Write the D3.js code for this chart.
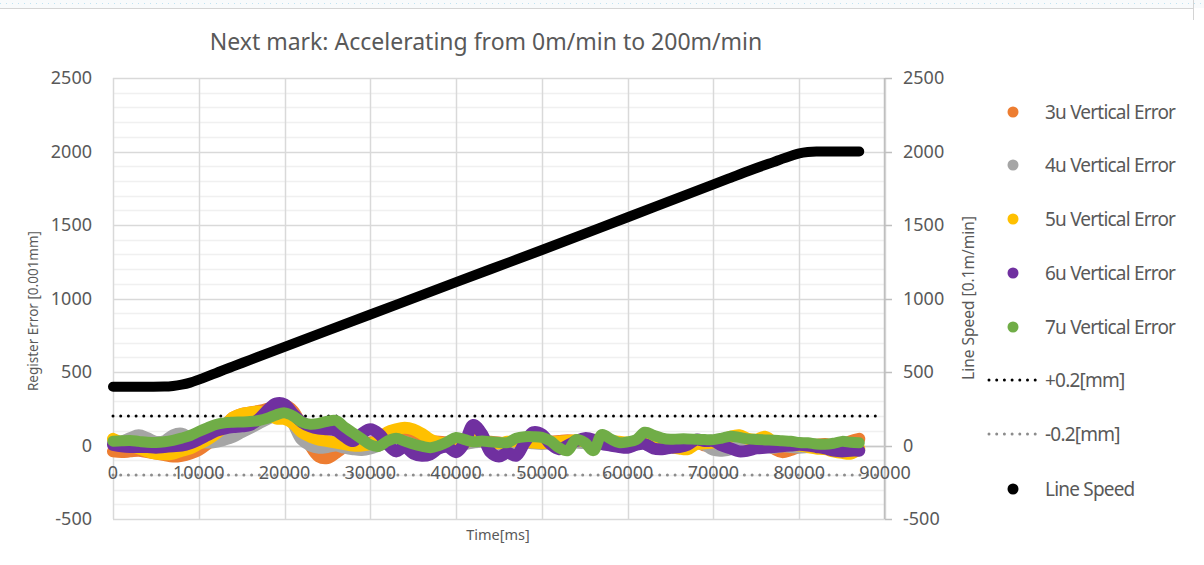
<!DOCTYPE html>
<html>
<head>
    <title>Next mark</title>
    <script src="https://d3js.org/d3.v7.min.js"></script>
    <style>
        body { margin: 0; background: #fff; font-family: "Noto Sans", Arial, sans-serif; }
        svg text { fill: #595959; }
    </style>
</head>
<body>
<div id="chart"></div>
<script>
    // sample times of the register error series [ms]
    const timeMs = [0, 1000, 2000, 3000, 4000, 5000, 6000, 7000, 8000, 9000,
        10000, 11000, 12000, 13000, 14000, 15000, 16000, 17000, 18000, 19000,
        20000, 21000, 22000, 23000, 24000, 25000, 26000, 27000, 28000, 29000,
        30000, 31000, 32000, 33000, 34000, 35000, 36000, 37000, 38000, 39000,
        40000, 41000, 42000, 43000, 44000, 45000, 46000, 47000, 48000, 49000,
        50000, 51000, 52000, 53000, 54000, 55000, 56000, 57000, 58000, 59000,
        60000, 61000, 62000, 63000, 64000, 65000, 66000, 67000, 68000, 69000,
        70000, 71000, 72000, 73000, 74000, 75000, 76000, 77000, 78000, 79000,
        80000, 81000, 82000, 83000, 84000, 85000, 86000, 87000];

    const err3u = [-40, -45, -40, -35, -45, -55, -65, -75, -70, -55,
        -30, 10, 60, 130, 190, 215, 225, 235, 250, 270,
        275, 235, 130, 0, -75, -85, -50, -10, 10, 15,
        20, 30, 45, 60, 70, 60, 40, 30, 25, 20,
        15, 20, 25, 30, 25, 20, 15, 20, 30, 25,
        20, 25, 30, 35, 30, 20, 25, 40, 30, 20,
        15, 20, 30, 35, 30, 25, -15, 5, 25, 0,
        20, 30, 35, 30, 25, 20, 10, -20, -45, -30,
        -10, 0, 5, 10, 0, 5, 30, 45];

    const err4u = [20, 25, 50, 70, 50, 25, 30, 70, 80, 50,
        30, 20, 25, 40, 60, 90, 120, 150, 180, 215,
        230, 150, 40, 0, -15, -10, 0, -15, -25, -30,
        -20, 0, 20, 30, 25, 5, -15, -5, 10, 20,
        15, 10, 20, 25, 15, 10, 5, 15, 20, 15,
        10, 15, 20, 25, 20, 15, 20, 25, 20, 15,
        15, 20, 25, 20, 15, 20, 25, 20, 15, 5,
        -30, -35, -25, 15, 5, 0, -10, -15, -5, -10,
        -15, -10, -5, -10, -15, -35, -35, -30];

    const err5u = [45, 20, 0, -20, -40, -55, -60, -55, -35, -20,
        10, 40, 80, 130, 190, 215, 225, 230, 210, 185,
        180, 150, 90, 60, 40, 30, 20, 10, 0, 0,
        10, 40, 90, 110, 120, 110, 80, 40, 20, 15,
        10, 20, 40, 30, 20, 15, 25, 30, 25, 20,
        15, 20, 25, 30, 35, 30, 25, 20, 30, 25,
        20, 25, 30, 25, 20, -10, -20, -25, 10, 15,
        20, 35, 60, 70, 45, 40, 60, 25, 10, 5,
        0, -10, -20, -25, -40, -50, -55, -20];

    const err6u = [5, -5, -10, -10, -10, -15, -10, -5, 0, 15,
        40, 70, 100, 115, 125, 130, 140, 180, 240, 285,
        280, 215, 160, 130, 115, 110, 100, 60, 30, 80,
        110, 80, 10, -40, -10, -55, -70, -60, -20, -10,
        -45, 20, 140, 80, -45, -75, -50, -70, 20, 90,
        75, 10, -25, 0, 30, 50, 40, 10, 0, -10,
        -15, 5, 10, -20, -25, -15, -10, 5, 40, 30,
        30, 0, -20, -40, -35, -20, -15, -10, -5, 0,
        5, 0, -10, -20, -35, -40, -35, -35];

    const err7u = [29, 32, 34, 28, 22, 20, 25, 35, 50, 68,
        95, 120, 143, 154, 158, 160, 163, 170, 185, 208,
        222, 200, 160, 145, 150, 165, 170, 125, 85, 45,
        5, -5, 30, 50, 30, 10, -5, -15, 0, 25,
        55, 40, 25, 30, 25, 20, 20, 50, 60, 60,
        55, 30, -15, -35, 40, 20, -35, 75, 45, 20,
        25, 40, 90, 70, 50, 42, 45, 45, 42, 40,
        40, 50, 63, 55, 45, 41, 38, 36, 32, 29,
        20, 18, 10, 8, 15, 28, 22, 18];

    // line speed [0.1m/min], secondary axis
    const speedTimeMs = [0, 2000, 4000, 6000, 7000, 8000, 9000, 10000, 11000, 12000,
        13000, 14000, 16000, 20000, 30000, 40000, 50000, 60000, 70000, 72000,
        74000, 76000, 77000, 78000, 79000, 80000, 81000, 82000, 84000, 86000, 87000];
    const lineSpeed = [400, 400, 400, 401, 405, 414, 428, 448, 470, 493,
        516, 538, 583, 671, 891, 1111, 1330, 1553, 1776, 1821,
        1866, 1908, 1928, 1950, 1970, 1988, 1997, 2000, 2000, 2000, 2000];

    const limitPlus = 200;
    const limitMinus = -200;

    const seriesNames = ['3u Vertical Error', '4u Vertical Error', '5u Vertical Error', '6u Vertical Error', '7u Vertical Error'];
    const seriesColors = ['#ed7d31', '#a5a5a5', '#ffc000', '#7030a0', '#70ad47'];
    const seriesValues = [err3u, err4u, err5u, err6u, err7u];

    const xTicks = [0, 10000, 20000, 30000, 40000, 50000, 60000, 70000, 80000, 90000];
    const yTicks = [-500, 0, 500, 1000, 1500, 2000, 2500];

    const width = 1204, height = 565;
    const plotL = 113, plotR = 885, plotT = 78, plotB = 519;

    const svg = d3.select('#chart').append('svg')
        .attr('width', width)
        .attr('height', height);

    svg.append('rect').attr('width', width).attr('height', height).attr('fill', '#fff');

    // sheet strip at the very top
    svg.append('rect').attr('width', width).attr('height', 8).attr('fill', '#f8fafb');
    svg.append('line').attr('x1', 0).attr('x2', width).attr('y1', 3.5).attr('y2', 3.5)
        .attr('stroke', '#bfe3f2').attr('stroke-dasharray', '1,5');
    svg.append('line').attr('x1', 0).attr('x2', 1193).attr('y1', 8.5).attr('y2', 8.5)
        .attr('stroke', '#d4d4d4');
    svg.append('line').attr('x1', 1193.5).attr('x2', 1193.5).attr('y1', 0).attr('y2', 20)
        .attr('stroke', '#d4d4d4');

    const x = d3.scaleLinear().domain([0, 90000]).range([plotL, plotR]);
    const y = d3.scaleLinear().domain([-500, 2500]).range([plotB, plotT]);
    const y2 = d3.scaleLinear().domain([-500, 2500]).range([plotB, plotT]);

    // minor gridlines
    const minor = d3.range(-500, 2501, 100).filter(v => v % 500 !== 0);
    svg.append('g').selectAll('line').data(minor).join('line')
        .attr('x1', plotL).attr('x2', plotR)
        .attr('y1', d => Math.round(y(d)) + 0.5).attr('y2', d => Math.round(y(d)) + 0.5)
        .attr('stroke', '#f0f0f0').attr('stroke-width', 1.5);

    // major gridlines
    svg.append('g').selectAll('line').data(yTicks).join('line')
        .attr('x1', plotL).attr('x2', plotR)
        .attr('y1', d => Math.round(y(d)) + 0.5).attr('y2', d => Math.round(y(d)) + 0.5)
        .attr('stroke', '#d9d9d9').attr('stroke-width', 1.5);

    svg.append('g').selectAll('line').data(xTicks).join('line')
        .attr('x1', d => Math.round(x(d)) + 0.5).attr('x2', d => Math.round(x(d)) + 0.5)
        .attr('y1', plotT).attr('y2', plotB)
        .attr('stroke', '#d9d9d9').attr('stroke-width', 1.5);

    // right axis line and ticks
    svg.append('line').attr('x1', plotR - 0.5).attr('x2', plotR - 0.5)
        .attr('y1', plotT).attr('y2', plotB).attr('stroke', '#bfbfbf').attr('stroke-width', 1.5);
    svg.append('g').selectAll('line').data(yTicks).join('line')
        .attr('x1', plotR).attr('x2', plotR + 7)
        .attr('y1', d => Math.round(y2(d)) + 0.5).attr('y2', d => Math.round(y2(d)) + 0.5)
        .attr('stroke', '#bfbfbf').attr('stroke-width', 1.5);

    // zero axis line
    svg.append('line').attr('x1', plotL).attr('x2', plotR)
        .attr('y1', Math.round(y(0)) + 0.5).attr('y2', Math.round(y(0)) + 0.5)
        .attr('stroke', '#c8c8c8').attr('stroke-width', 1.5);

    // tick labels
    svg.append('g').selectAll('text').data(yTicks).join('text')
        .attr('x', 92).attr('y', d => y(d)).attr('dy', '0.35em')
        .attr('text-anchor', 'end').style('font-size', '18px')
        .text(d => d);
    svg.append('g').selectAll('text').data(yTicks).join('text')
        .attr('x', 903).attr('y', d => y2(d)).attr('dy', '0.35em')
        .attr('text-anchor', 'start').style('font-size', '18px')
        .text(d => d);

    // limit lines
    svg.append('line').attr('x1', plotL).attr('x2', 882)
        .attr('y1', y(limitPlus)).attr('y2', y(limitPlus))
        .attr('stroke', '#000').attr('stroke-width', 3)
        .attr('stroke-linecap', 'round').attr('stroke-dasharray', '0,7.7');
    svg.append('line').attr('x1', plotL).attr('x2', 882)
        .attr('y1', y(limitMinus)).attr('y2', y(limitMinus))
        .attr('stroke', '#8c8c8c').attr('stroke-width', 3)
        .attr('stroke-linecap', 'round').attr('stroke-dasharray', '0,7.7');

    svg.append('g').selectAll('text').data(xTicks).join('text')
        .attr('x', d => x(d)).attr('y', y(0) + 33)
        .attr('text-anchor', 'middle').style('font-size', '18px')
        .text(d => d);

    // error series
    const errLine = d3.line()
        .x((d, i) => x(timeMs[i]))
        .y(d => y(d))
        .curve(d3.curveCatmullRom);

    svg.append('g').selectAll('path').data(seriesValues).join('path')
        .attr('d', d => errLine(d))
        .attr('fill', 'none')
        .attr('stroke', (d, i) => seriesColors[i])
        .attr('stroke-width', (d, i) => i === 4 ? 11 : 12)
        .attr('stroke-linecap', 'round')
        .attr('stroke-linejoin', 'round');

    // line speed
    const speedLine = d3.line()
        .x((d, i) => x(speedTimeMs[i]))
        .y(d => y2(d))
        .curve(d3.curveMonotoneX);
    svg.append('path')
        .attr('d', speedLine(lineSpeed))
        .attr('fill', 'none')
        .attr('stroke', '#000')
        .attr('stroke-width', 10)
        .attr('stroke-linecap', 'round')
        .attr('stroke-linejoin', 'round');

    // titles
    svg.append('text').attr('x', 486).attr('y', 50).attr('text-anchor', 'middle')
        .style('font-size', '23px')
        .text('Next mark: Accelerating from 0m/min to 200m/min');
    svg.append('text').attr('transform', 'translate(38,311) rotate(-90)')
        .attr('text-anchor', 'middle').style('font-size', '13.5px')
        .text('Register Error [0.001mm]');
    svg.append('text').attr('transform', 'translate(974,298) rotate(-90)')
        .attr('text-anchor', 'middle').style('font-size', '15.5px')
        .text('Line Speed [0.1m/min]');
    svg.append('text').attr('x', 498).attr('y', 540).attr('text-anchor', 'middle')
        .style('font-size', '14.5px')
        .text('Time[ms]');

    // legend
    const legendRows = [112, 165, 219, 273, 327, 380, 434, 489];
    const legendItems = seriesNames.map((n, i) => ({ name: n, color: seriesColors[i], type: 'dot' }))
        .concat([
            { name: '+0.2[mm]', color: '#000', type: 'dash' },
            { name: '-0.2[mm]', color: '#8c8c8c', type: 'dash' },
            { name: 'Line Speed', color: '#000', type: 'dot' }
        ]);

    const legend = svg.append('g').selectAll('g').data(legendItems).join('g')
        .attr('transform', (d, i) => `translate(0,${legendRows[i]})`);
    legend.filter(d => d.type === 'dot').append('circle')
        .attr('cx', 1013).attr('cy', 0).attr('r', 5.5)
        .attr('fill', d => d.color);
    legend.filter(d => d.type === 'dash').append('line')
        .attr('x1', 989).attr('x2', 1036).attr('y1', 0).attr('y2', 0)
        .attr('stroke', d => d.color).attr('stroke-width', 3)
        .attr('stroke-linecap', 'round').attr('stroke-dasharray', '0,7.7');
    legend.append('text')
        .attr('x', 1045).attr('dy', '0.35em')
        .style('font-size', '19px').style('letter-spacing', '-0.8px')
        .text(d => d.name);
</script>
</body>
</html>
